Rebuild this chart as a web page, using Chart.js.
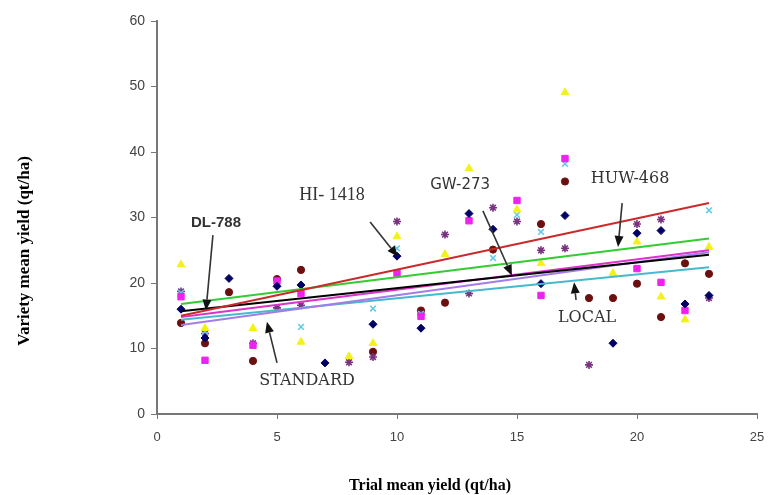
<!DOCTYPE html>
<html>
<head>
<meta charset="utf-8">
<script src="https://cdn.jsdelivr.net/npm/chart.js@4.4.1/dist/chart.umd.min.js"></script>
<style>
  html, body { margin: 0; padding: 0; background: #fff; }
  #wrap { width: 768px; height: 495px; position: relative; }
</style>
</head>
<body>
<div id="wrap"><canvas id="yieldChart"></canvas></div>
<script>
// observed variety yields, [trial mean, variety mean]
const diamondPts = [[1,16.0],[2,11.6],[3,20.7],[5,19.5],[6,19.7],[7,7.8],[9,13.7],[10,24.1],[11,13.1],
    [13,30.6],[14,28.2],[16,19.9],[17,30.3],[19,10.8],[20,27.6],[21,28.0],[22,16.8],[23,18.1]];
const squarePts = [[1,17.9],[2,8.2],[4,10.5],[5,20.3],[6,18.4],[10,21.5],[11,14.9],[13,29.5],[15,32.6],
    [16,18.1],[17,39.0],[20,22.2],[21,20.1],[22,15.8]];
const trianglePts = [[1,22.8],[2,13.1],[4,13.1],[6,11.0],[8,8.8],[9,10.8],[10,27.1],[12,24.4],[13,37.5],
    [15,31.2],[16,23.0],[17,49.1],[19,21.5],[20,26.3],[21,17.9],[22,14.4],[23,25.5]];
const crossPts = [[1,18.5],[2,12.6],[6,13.3],[9,16.1],[10,25.3],[11,15.3],[14,23.8],[15,30.4],[16,27.8],
    [17,38.2],[23,31.1]];
const starPts = [[1,18.7],[2,12.3],[4,10.8],[5,16.2],[6,16.6],[8,7.9],[9,8.7],[10,29.4],[11,15.2],[12,27.4],
    [13,18.4],[14,31.5],[15,29.4],[16,25.0],[17,25.3],[18,7.5],[20,29.0],[21,29.7],[23,17.7]];
const circlePts = [[1,13.9],[2,10.8],[3,18.6],[4,8.1],[5,20.6],[6,22.0],[9,9.5],[11,15.8],[12,17.0],
    [14,25.1],[16,29.0],[17,35.5],[18,17.7],[19,17.7],[20,19.9],[21,14.8],[22,23.0],[23,21.4]];

// fitted regression lines, evaluated at first and last trial
const fitX = [1, 23];
const fitHI1418 = [15.0, 32.2];
const fitHUW468 = [16.8, 26.8];
const fitGW273 = [15.7, 24.3];
const fitViolet = [13.6, 24.7];
const fitStandard = [14.8, 25.0];
const fitLocal = [14.4, 22.4];

const xTicks = [0, 5, 10, 15, 20, 25];
const yTicks = [0, 10, 20, 30, 40, 50, 60];

// annotation labels with arrows, in data units
const notes = [
    { text: 'DL-788', at: [2.46, 29.2], from: [2.33, 27.3], to: [2.04, 15.8], font: 'bold 15px "Liberation Sans"' },
    { text: 'HI- 1418', at: [7.29, 33.4], from: [8.88, 29.3], to: [10.04, 24.0], font: '18px "Liberation Serif"' },
    { text: 'GW-273', at: [12.63, 35.0], from: [13.58, 31.0], to: [14.79, 21.1], font: '15px "DejaVu Sans"' },
    { text: 'HUW-468', at: [19.71, 35.9], from: [19.38, 32.2], to: [19.21, 25.5], font: '16px "DejaVu Serif"' },
    { text: 'LOCAL', at: [17.92, 14.7], from: [17.46, 17.4], to: [17.38, 20.1], font: '16px "DejaVu Serif"' },
    { text: 'STANDARD', at: [6.25, 5.0], from: [5.0, 7.8], to: [4.58, 14.1], font: '16px "DejaVu Serif"' }
];

const toXY = arr => arr.map(p => ({ x: p[0], y: p[1] }));
const fitLine = ys => fitX.map((x, i) => ({ x: x, y: ys[i] }));

function pointSet(label, pts, style, color, radius) {
    return {
        label: label, data: toXY(pts), pointStyle: style, pointRadius: radius,
        backgroundColor: color, borderColor: color, pointBorderWidth: style === 'star' || style === 'crossRot' ? 1.6 : 1,
        showLine: false, order: 2
    };
}
function lineSet(label, ys, color) {
    return {
        label: label, data: fitLine(ys), showLine: true, pointRadius: 0,
        borderColor: color, borderWidth: 2, fill: false, order: 1
    };
}

function drawArrow(ctx, x1, y1, x2, y2) {
    const ang = Math.atan2(y2 - y1, x2 - x1);
    const len = 11, half = 4.5;
    const bx = x2 - Math.cos(ang) * len, by = y2 - Math.sin(ang) * len;
    ctx.beginPath();
    ctx.moveTo(x1, y1);
    ctx.lineTo(bx, by);
    ctx.stroke();
    ctx.beginPath();
    ctx.moveTo(x2, y2);
    ctx.lineTo(bx - Math.sin(ang) * half, by + Math.cos(ang) * half);
    ctx.lineTo(bx + Math.sin(ang) * half, by - Math.cos(ang) * half);
    ctx.closePath();
    ctx.fill();
}

const notesPlugin = {
    id: 'notes',
    afterDraw(chart) {
        const ctx = chart.ctx, xs = chart.scales.x, ys = chart.scales.y;
        ctx.save();
        ctx.strokeStyle = '#333';
        ctx.fillStyle = '#111';
        ctx.lineWidth = 1.6;
        notes.forEach(n => {
            drawArrow(ctx, xs.getPixelForValue(n.from[0]), ys.getPixelForValue(n.from[1]),
                xs.getPixelForValue(n.to[0]), ys.getPixelForValue(n.to[1]));
        });
        ctx.textAlign = 'center';
        ctx.textBaseline = 'middle';
        notes.forEach(n => {
            ctx.font = n.font;
            ctx.fillStyle = '#333';
            ctx.fillText(n.text, xs.getPixelForValue(n.at[0]), ys.getPixelForValue(n.at[1]));
        });

        // axis titles
        ctx.fillStyle = '#000';
        ctx.font = 'bold 16px "Liberation Serif"';
        ctx.fillText('Trial mean yield (qt/ha)', 430, 486);
        ctx.translate(25, 251);
        ctx.rotate(-Math.PI / 2);
        ctx.font = 'bold 17px "Liberation Serif"';
        ctx.fillText('Variety mean yield (qt/ha)', 0, 0);
        ctx.restore();
    }
};

new Chart(document.getElementById('yieldChart'), {
    type: 'scatter',
    data: {
        datasets: [
            lineSet('HI-1418', fitHI1418, '#cc2a2a'),
            lineSet('HUW-468', fitHUW468, '#33cc33'),
            lineSet('GW-273', fitGW273, '#000000'),
            lineSet('Violet', fitViolet, '#a57be8'),
            lineSet('STANDARD', fitStandard, '#dd33cc'),
            lineSet('LOCAL', fitLocal, '#44bbcc'),
            pointSet('s1', diamondPts, 'rectRot', '#000066', 4),
            pointSet('s2', squarePts, 'rect', '#ee22ee', 4.5),
            pointSet('s3', trianglePts, 'triangle', '#f2f21a', 4.5),
            pointSet('s4', crossPts, 'crossRot', '#66c8e8', 4),
            pointSet('s5', starPts, 'star', '#7a3380', 4),
            pointSet('s6', circlePts, 'circle', '#6b0f0f', 3.6)
        ]
    },
    options: {
        responsive: true,
        maintainAspectRatio: false,
        animation: false,
        layout: { padding: { top: 21, right: 11, left: 0, bottom: 0 } },
        plugins: { legend: { display: false }, tooltip: { enabled: false } },
        scales: {
            x: {
                type: 'linear', min: 0, max: 25,
                afterBuildTicks: s => { s.ticks = xTicks.map(v => ({ value: v })); },
                afterFit: s => { s.height = 81; s.paddingLeft = 0; s.paddingRight = 0; },
                border: { color: '#777', width: 2 },
                grid: { drawOnChartArea: false, tickLength: 5, tickColor: '#777' },
                ticks: { color: '#444', padding: 11, font: { family: 'Liberation Sans', size: 13 } }
            },
            y: {
                type: 'linear', min: 0, max: 60,
                afterBuildTicks: s => { s.ticks = yTicks.map(v => ({ value: v })); },
                afterFit: s => { s.width = 157; },
                border: { color: '#777', width: 2 },
                grid: { drawOnChartArea: false, tickLength: 6, tickColor: '#777' },
                ticks: { color: '#444', padding: 6, font: { family: 'Liberation Sans', size: 14 } }
            }
        }
    },
    plugins: [notesPlugin]
});
</script>
</body>
</html>
